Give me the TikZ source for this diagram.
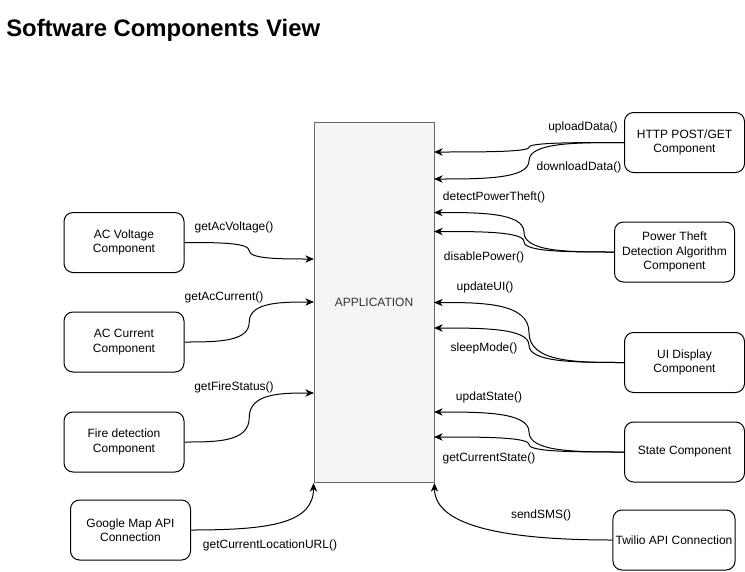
\documentclass[tikz,border=0pt]{standalone}
\usepackage{fontspec}
\setmainfont{Liberation Sans}
\usetikzlibrary{arrows.meta,calc}
\definecolor{appFill}{RGB}{245,245,245}
\definecolor{appLine}{RGB}{102,102,102}
\definecolor{appText}{RGB}{51,51,51}
\begin{document}
\begin{tikzpicture}[x=0.75pt,y=-0.75pt,
  comp/.style={draw=black,fill=white,rounded corners=6.75pt,line width=0.75pt,
    minimum width=90pt,minimum height=45pt,align=center,inner sep=2pt,
    font=\fontsize{9}{10.8}\selectfont},
  call/.style={inner sep=0pt,font=\fontsize{9}{10.8}\selectfont},
  link/.style={draw=black,line width=0.75pt,-{Stealth[length=6.5pt,width=5.5pt,inset=2pt]}},
  wire/.style={to path={let \p1=(\tikztostart), \p2=(\tikztotarget) in
    .. controls ($(\x1,\y1)!.25!(\x2,\y1)$) and ($(\x1,\y1)!.5!(\x2,\y1)$) .. ($(\p1)!.5!(\p2)$)
    .. controls ($(\x1,\y2)!.5!(\x2,\y2)$) and ($(\x1,\y2)!.75!(\x2,\y2)$) .. (\tikztotarget)}}]
\useasboundingbox (0,0) rectangle (745,571);

\node[anchor=west,inner sep=0pt,font=\fontsize{17.9}{21}\selectfont\bfseries] (title) at (6,30) {Software Components View};

% application block
\node[draw=appLine,fill=appFill,text=appText,line width=0.75pt,minimum width=90pt,minimum height=270pt,
  inner sep=0pt,font=\fontsize{9}{10.8}\selectfont] (app) at (374,302.5) {APPLICATION};

% components, left
\node[comp] (volt) at (124,242.5) {AC Voltage\\Component};
\node[comp] (curr) at (124,342) {AC Current\\Component};
\node[comp] (fire) at (124,442) {Fire detection\\Component};
\node[comp] (gmap) at (130.5,530) {Google Map API\\Connection};

% components, right
\node[comp] (http) at (684.5,142.5) {HTTP POST/GET\\Component};
\node[comp] (ptd) at (674.5,252) {Power Theft\\Detection Algorithm\\Component};
\node[comp] (ui) at (684.5,362.5) {UI Display\\Component};
\node[comp] (state) at (684.5,452) {State Component};
\node[comp] (twilio) at (674,540) {Twilio API Connection};

% ports on the application block
\coordinate (inVolt) at (314,259);
\coordinate (inCurr) at (314,302);
\coordinate (inFire) at (314,393);
\coordinate (inUpload) at (434,152);
\coordinate (inDownload) at (434,179);
\coordinate (inDetect) at (434,212.5);
\coordinate (inDisable) at (434,231.5);
\coordinate (inUpdateUI) at (434,302.5);
\coordinate (inSleep) at (434,328);
\coordinate (inUpdState) at (434,412);
\coordinate (inGetState) at (434,437);

\draw[link] (volt.east) to[wire] (inVolt);
\draw[link] (curr.east) to[wire] (inCurr);
\draw[link] (fire.east) to[wire] (inFire);
\draw[link] (gmap.east) .. controls +(80,0) and +(0,40) .. (app.south west);

\draw[link] (http.west) to[wire] (inUpload);
\draw[link] (http.west) to[wire] (inDownload);
\draw[link] (ptd.west) to[wire] (inDetect);
\draw[link] (ptd.west) to[wire] (inDisable);
\draw[link] (ui.west) to[wire] (inUpdateUI);
\draw[link] (ui.west) to[wire] (inSleep);
\draw[link] (state.west) to[wire] (inUpdState);
\draw[link] (state.west) to[wire] (inGetState);
\draw[link] (twilio.west) .. controls +(-100,0) and +(0,45) .. (app.south east);

% call labels
\node[call] (lVolt) at (234,227) {getAcVoltage()};
\node[call] (lCurr) at (224,297) {getAcCurrent()};
\node[call] (lFire) at (234,387) {getFireStatus()};
\node[call] (lLoc) at (270,545) {getCurrentLocationURL()};
\node[call] (lUpload) at (583,127) {uploadData()};
\node[call] (lDownload) at (579,167) {downloadData()};
\node[call] (lDetect) at (494,197) {detectPowerTheft()};
\node[call] (lDisable) at (484,257) {disablePower()};
\node[call] (lUpdateUI) at (485,287) {updateUI()};
\node[call] (lSleep) at (484,348) {sleepMode()};
\node[call] (lUpdState) at (489,397) {updatState()};
\node[call] (lGetState) at (489,458) {getCurrentState()};
\node[call] (lSms) at (541,515) {sendSMS()};
\end{tikzpicture}
\end{document}
